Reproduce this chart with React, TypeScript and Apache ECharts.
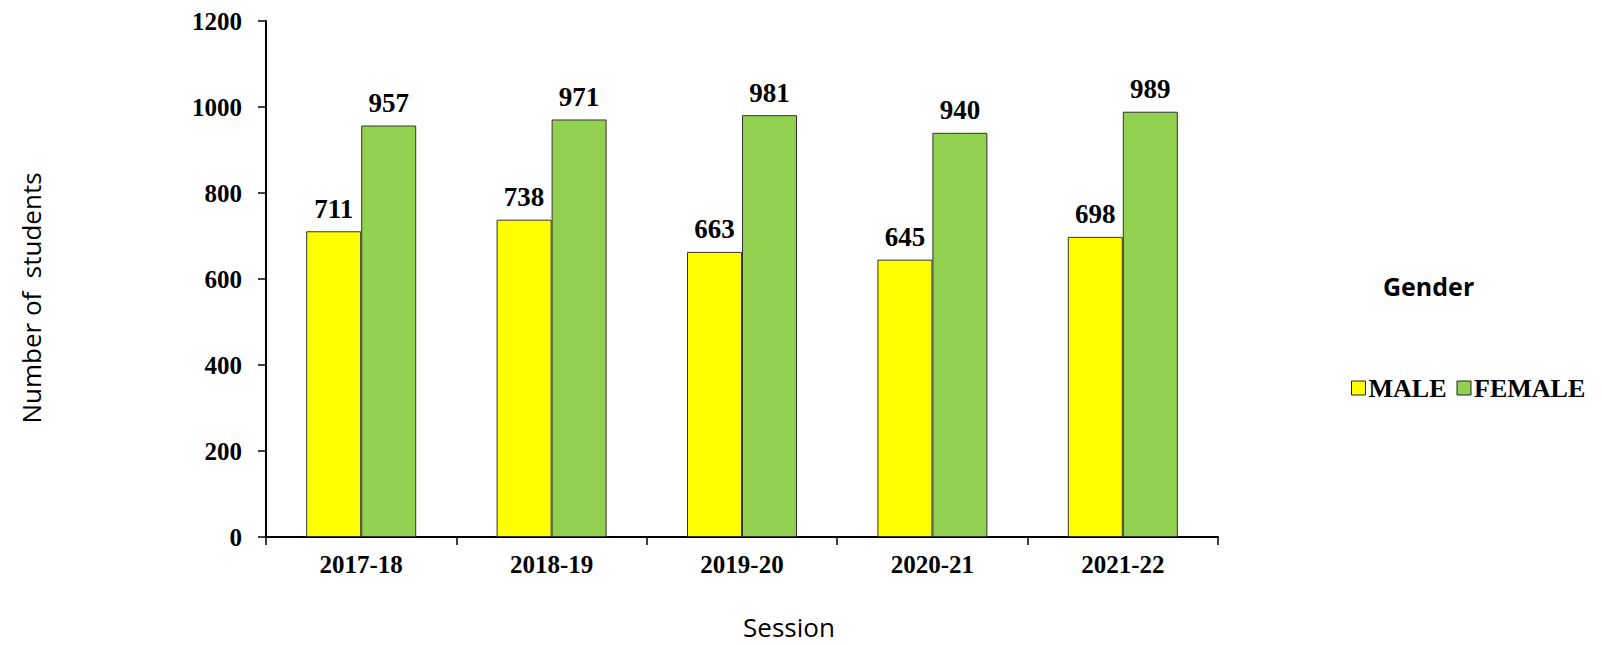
import React, { useEffect, useRef } from "react";
import * as echarts from "echarts";

const sessions = ["2017-18", "2018-19", "2019-20", "2020-21", "2021-22"];
const maleValues = [711, 738, 663, 645, 698];
const femaleValues = [957, 971, 981, 940, 989];
const yTicks = { min: 0, max: 1200, interval: 200 };

export default function App() {
  const ref = useRef<HTMLDivElement>(null);
  useEffect(() => {
    document.body.style.margin = "0";
    const chart = echarts.init(ref.current!, null, { renderer: "svg" });
    const serif = "'Liberation Serif', 'Times New Roman', serif";
    const sans = "'Open Sans', 'Noto Sans', sans-serif";
    const labelStyle = {
      show: true,
      position: "top" as const,
      distance: 9,
      fontFamily: serif,
      fontWeight: "bold" as const,
      fontSize: 27,
      color: "#000",
    };
    chart.setOption({
      animation: false,
      backgroundColor: "#fff",
      grid: { left: 266, top: 21, right: 384, bottom: 108, containLabel: false },
      legend: {
        left: 1346,
        top: 370,
        itemWidth: 14,
        itemHeight: 14,
        itemGap: 10,
        icon: "rect",
        itemStyle: { borderColor: "#222", borderWidth: 1 },
        textStyle: { fontFamily: serif, fontWeight: "bold", fontSize: 26, color: "#000", padding: [0, 0, 0, -2] },
        data: ["MALE", "FEMALE"],
      },
      graphic: [
        {
          type: "text",
          x: 1383,
          y: 286,
          style: {
            text: "Gender",
            fontFamily: sans,
            fontWeight: "bold",
            fontSize: 25,
            fill: "#000",
            align: "left",
            verticalAlign: "middle",
          },
        },
      ],
      xAxis: {
        type: "category",
        data: sessions,
        name: "Session",
        nameLocation: "middle",
        nameGap: 77,
        nameTextStyle: { fontFamily: sans, fontSize: 26, color: "#000", padding: [0, 0, 0, 94] },
        axisLine: { lineStyle: { color: "#000", width: 2 } },
        axisTick: { show: true, length: 8, lineStyle: { color: "#000", width: 1.5 } },
        axisLabel: { fontFamily: serif, fontWeight: "bold", fontSize: 25, color: "#000", margin: 15 },
      },
      yAxis: {
        type: "value",
        min: yTicks.min,
        max: yTicks.max,
        interval: yTicks.interval,
        name: "Number of  students",
        nameLocation: "middle",
        nameGap: 222,
        nameTextStyle: { fontFamily: sans, fontSize: 26, color: "#000", padding: [0, 38, 0, 0] },
        axisLine: { show: true, lineStyle: { color: "#000", width: 2 } },
        axisTick: { show: true, length: 8, lineStyle: { color: "#000", width: 1.5 } },
        splitLine: { show: false },
        axisLabel: {
          fontFamily: serif,
          fontWeight: "bold",
          fontSize: 25,
          color: "#000",
          margin: 24,
          formatter: (v: number) => String(v),
        },
      },
      series: [
        {
          name: "MALE",
          type: "bar",
          data: maleValues,
          barWidth: 55,
          barGap: "0%",
          itemStyle: { color: "#FFFF00", borderColor: "#333", borderWidth: 1 },
          label: labelStyle,
        },
        {
          name: "FEMALE",
          type: "bar",
          data: femaleValues,
          barWidth: 55,
          barGap: "0%",
          itemStyle: { color: "#92D050", borderColor: "#333", borderWidth: 1 },
          label: labelStyle,
        },
      ],
    });
    return () => chart.dispose();
  }, []);
  return <div ref={ref} style={{ width: 1602, height: 645 }} />;
}
